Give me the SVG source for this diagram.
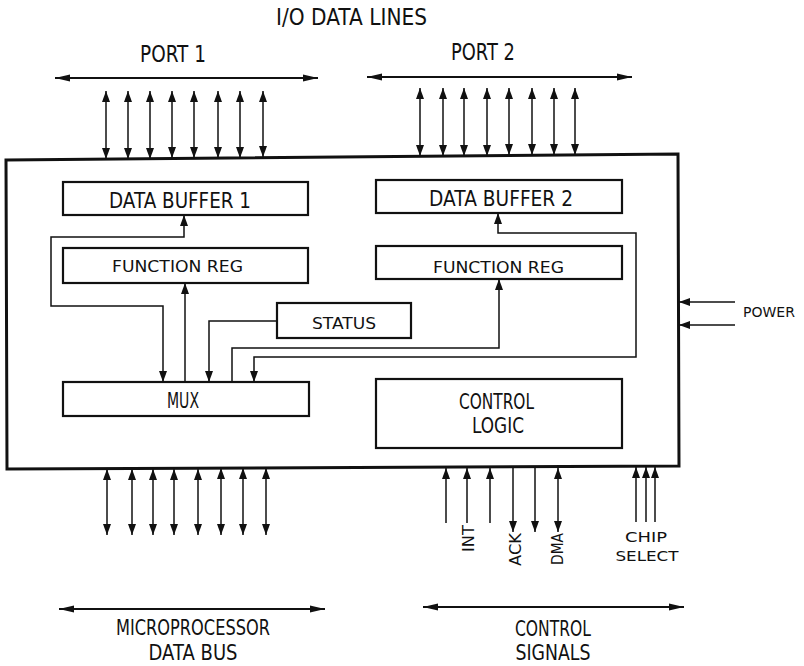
<svg xmlns="http://www.w3.org/2000/svg" width="804" height="666" viewBox="0 0 804 666">
<style>
text{font-family:"DejaVu Sans","Liberation Sans",sans-serif;fill:#111;text-anchor:middle;}
.big{font-size:21px;}
.top{font-size:23px;}
.box{fill:#fff;stroke:#111;stroke-width:2.2;}
.ln{fill:none;stroke:#111;stroke-width:1.5;}
.bi{fill:none;stroke:#111;stroke-width:1.5;marker-start:url(#as);marker-end:url(#ae);}
.one{fill:none;stroke:#111;stroke-width:1.5;marker-end:url(#ae);}
.bus{fill:none;stroke:#111;stroke-width:2;marker-start:url(#bs);marker-end:url(#be);}
</style>
<defs>
<marker id="ae" markerUnits="userSpaceOnUse" markerWidth="12" markerHeight="8" refX="11" refY="4" orient="auto"><path d="M0,0L11,4L0,8Z" fill="#111"/></marker>
<marker id="as" markerUnits="userSpaceOnUse" markerWidth="12" markerHeight="8" refX="11" refY="4" orient="auto-start-reverse"><path d="M0,0L11,4L0,8Z" fill="#111"/></marker>
<marker id="be" markerUnits="userSpaceOnUse" markerWidth="16" markerHeight="8" refX="15" refY="4" orient="auto"><path d="M0,0.5L15,4L0,7.5Z" fill="#111"/></marker>
<marker id="bs" markerUnits="userSpaceOnUse" markerWidth="16" markerHeight="8" refX="15" refY="4" orient="auto-start-reverse"><path d="M0,0.5L15,4L0,7.5Z" fill="#111"/></marker>
</defs>
<rect width="804" height="666" fill="#fff"/>

<g id="labels">
<text class="top" x="351.5" y="25" textLength="151" lengthAdjust="spacingAndGlyphs">I/O DATA LINES</text>
<text class="top" x="173" y="62" textLength="66" lengthAdjust="spacingAndGlyphs">PORT 1</text>
<text class="top" x="483" y="60" textLength="64" lengthAdjust="spacingAndGlyphs">PORT 2</text>
<text x="769" y="317" font-size="14" textLength="52" lengthAdjust="spacingAndGlyphs">POWER</text>
<text class="big" x="193" y="635" textLength="154" lengthAdjust="spacingAndGlyphs">MICROPROCESSOR</text>
<text class="big" x="193" y="660" textLength="89" lengthAdjust="spacingAndGlyphs">DATA BUS</text>
<text class="big" x="553" y="636" textLength="76" lengthAdjust="spacingAndGlyphs">CONTROL</text>
<text class="big" x="553" y="660" textLength="75" lengthAdjust="spacingAndGlyphs">SIGNALS</text>
<text x="646" y="542" font-size="14" textLength="42" lengthAdjust="spacingAndGlyphs">CHIP</text>
<text x="647" y="561" font-size="14" textLength="63" lengthAdjust="spacingAndGlyphs">SELECT</text>
<text font-size="16" transform="translate(474,538.5) rotate(-90)" textLength="27" lengthAdjust="spacingAndGlyphs">INT</text>
<text font-size="16" transform="translate(521,549.5) rotate(-90)" textLength="33" lengthAdjust="spacingAndGlyphs">ACK</text>
<text font-size="16" transform="translate(563,549) rotate(-90)" textLength="32" lengthAdjust="spacingAndGlyphs">DMA</text>
</g>

<g id="chip">
<path d="M6,160 L678,154 L679,466 L7,469 Z" fill="none" stroke="#111" stroke-width="3"/>
</g>

<g id="data-buffer-1"><rect class="box" x="63" y="182" width="245" height="33"/><text class="big" x="180" y="208" textLength="142" lengthAdjust="spacingAndGlyphs">DATA BUFFER 1</text></g>
<g id="data-buffer-2"><rect class="box" x="376" y="180" width="246" height="33"/><text class="big" x="501" y="206" textLength="144" lengthAdjust="spacingAndGlyphs">DATA BUFFER 2</text></g>
<g id="function-reg-1"><rect class="box" x="63" y="248" width="245" height="35"/><text x="177.5" y="272" font-size="15" textLength="131" lengthAdjust="spacingAndGlyphs">FUNCTION REG</text></g>
<g id="function-reg-2"><rect class="box" x="376" y="246" width="246" height="33"/><text x="498.5" y="273" font-size="15" textLength="131" lengthAdjust="spacingAndGlyphs">FUNCTION REG</text></g>
<g id="status"><rect class="box" x="277" y="303" width="134" height="35"/><text x="344" y="329" font-size="16" textLength="64" lengthAdjust="spacingAndGlyphs">STATUS</text></g>
<g id="mux"><rect class="box" x="63" y="382" width="246" height="34"/><text class="big" x="183" y="408" textLength="32" lengthAdjust="spacingAndGlyphs">MUX</text></g>
<g id="control-logic"><rect class="box" x="376" y="379" width="246" height="69"/><text class="big" x="496.5" y="409" textLength="75" lengthAdjust="spacingAndGlyphs">CONTROL</text><text class="big" x="498" y="433" textLength="52" lengthAdjust="spacingAndGlyphs">LOGIC</text></g>

<g id="connectors">
<line class="bus" x1="55" y1="78" x2="318" y2="78"/>
<line class="bus" x1="367" y1="77" x2="632" y2="77"/>
<line class="bus" x1="59" y1="609" x2="325" y2="609"/>
<line class="bus" x1="423" y1="607" x2="684" y2="607"/>
<line class="bi" x1="106" y1="91" x2="106" y2="159"/>
<line class="bi" x1="128" y1="91" x2="128" y2="159"/>
<line class="bi" x1="150" y1="91" x2="150" y2="159"/>
<line class="bi" x1="172" y1="91" x2="172" y2="158"/>
<line class="bi" x1="194" y1="91" x2="194" y2="158"/>
<line class="bi" x1="218" y1="91" x2="218" y2="158"/>
<line class="bi" x1="240" y1="91" x2="240" y2="158"/>
<line class="bi" x1="263" y1="91" x2="263" y2="157"/>
<line class="bi" x1="420" y1="88" x2="420" y2="156"/>
<line class="bi" x1="443" y1="88" x2="443" y2="156"/>
<line class="bi" x1="464" y1="88" x2="464" y2="156"/>
<line class="bi" x1="487" y1="88" x2="487" y2="156"/>
<line class="bi" x1="509" y1="88" x2="509" y2="155"/>
<line class="bi" x1="532" y1="88" x2="532" y2="155"/>
<line class="bi" x1="554" y1="88" x2="554" y2="155"/>
<line class="bi" x1="575" y1="88" x2="575" y2="155"/>
<line class="bi" x1="107" y1="469" x2="107" y2="535"/>
<line class="bi" x1="132" y1="469" x2="132" y2="535"/>
<line class="bi" x1="153" y1="469" x2="153" y2="535"/>
<line class="bi" x1="174" y1="469" x2="174" y2="535"/>
<line class="bi" x1="198" y1="469" x2="198" y2="535"/>
<line class="bi" x1="221" y1="468" x2="221" y2="535"/>
<line class="bi" x1="243" y1="468" x2="243" y2="535"/>
<line class="bi" x1="266" y1="468" x2="266" y2="535"/>
<line class="one" x1="446" y1="523" x2="446" y2="468"/>
<line class="one" x1="467" y1="523" x2="467" y2="468"/>
<line class="one" x1="490" y1="523" x2="490" y2="468"/>
<line class="one" x1="513" y1="468" x2="513" y2="532"/>
<line class="one" x1="535" y1="468" x2="535" y2="532"/>
<line class="bi" x1="558" y1="468" x2="558" y2="532"/>
<line class="one" x1="636" y1="522" x2="636" y2="467"/>
<line class="one" x1="646" y1="522" x2="646" y2="467"/>
<line class="one" x1="655" y1="522" x2="655" y2="467"/>
<line class="one" x1="735" y1="302" x2="679" y2="302"/>
<line class="one" x1="735" y1="325" x2="679" y2="325"/>
<path class="bi" d="M163,382 L163,306 L51,306 L51,237 L184,237 L184,215"/>
<path class="one" d="M185,382 L185,283"/>
<path class="one" d="M277,321 L209,321 L209,382"/>
<path class="one" d="M232,382 L232,348 L499,348 L499,279"/>
<path class="bi" d="M254,382 L254,357 L636,357 L636,233 L498,233 L498,213"/>
</g>
</svg>
